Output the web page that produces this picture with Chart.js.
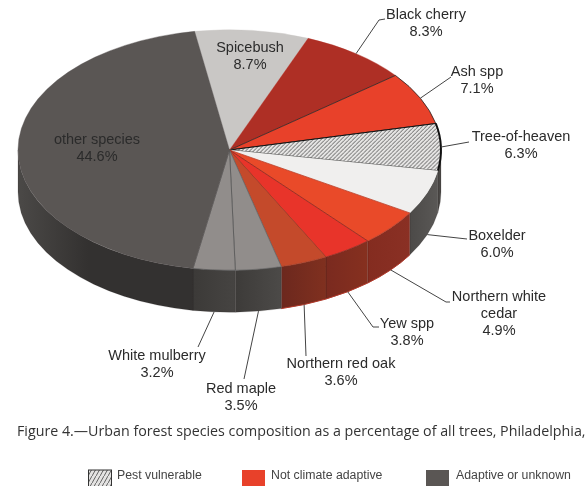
<!DOCTYPE html>
<html>
<head>
<meta charset="utf-8">
<script src="https://cdn.jsdelivr.net/npm/chart.js@4/dist/chart.umd.min.js"></script>
<style>
	html, body { margin: 0; padding: 0; background: #fff; }
	canvas { display: block; }
</style>
</head>
<body>
<canvas id="pieChart" width="588" height="486"></canvas>
<script>
// Chart data, clockwise from Spicebush
const categories = ['Spicebush', 'Black cherry', 'Ash spp', 'Tree-of-heaven', 'Boxelder', 'Northern white cedar', 'Yew spp', 'Northern red oak', 'Red maple', 'White mulberry', 'other species'];
const shares = [8.7, 8.3, 7.1, 6.3, 6.0, 4.9, 3.8, 3.6, 3.5, 3.2, 44.6];
const legendLabels = ['Pest vulnerable', 'Not climate adaptive', 'Adaptive or unknown'];
const caption = 'Figure 4.—Urban forest species composition as a percentage of all trees, Philadelphia,';

// Styling
const topColors = ['#c9c7c5', '#ae2f25', '#e8412a', 'HATCH', '#f0efee', '#e94a29', '#e8342a', '#c44a2b', '#918d8b', '#918d8b', '#5a5654'];
// side wall: left and right colour of each slice
const wallColors = [null, null, null, ['#4a4846', '#4a4846'], ['#4c4a48', '#5a5856'], ['#842c20', '#8a3024'], ['#7a2a1f', '#86301f'], ['#6c281e', '#80301f'], ['#3d3b39', '#4c4a48'], ['#3c3a38', '#464442'], ['#333130', '#4b4947']];
const wallRim = ['', '', '', '', '', '#b5392a', '#b5392a', '#b5392a', '', '', ''];
const edgeColors = ['#c9c7c5', '#ae2f25', '#222', '#111', '#f0efee', '#b8402a', '#8a2a20', '#a03a24', '#666', '#555', '#5a5654'];
const edgeWidths = [0.5, 0.5, 1, 2, 0.5, 1, 1, 1, 1, 1, 0.5];

// Label placement: [centre x, centre y of first line], and the bend(s) of each leader line
const labelLines = [['Spicebush', '8.7%'], ['Black cherry', '8.3%'], ['Ash spp', '7.1%'], ['Tree-of-heaven', '6.3%'], ['Boxelder', '6.0%'], ['Northern white', 'cedar', '4.9%'], ['Yew spp', '3.8%'], ['Northern red oak', '3.6%'], ['Red maple', '3.5%'], ['White mulberry', '3.2%'], ['other species', '44.6%']];
const labelSpots = [[250, 48], [426, 15], [477, 72], [521, 137], [497, 236], [499, 297], [407, 324], [341, 364], [241, 389], [157, 356], [97, 140]];
const leaderBends = [null, [[379, 20], [385, 19]], [[451, 77]], [[469, 142]], [[467, 239]], [[446, 302], [450, 302]], [[373, 327], [379, 327]], [[306, 356]], [[244, 379]], [[198, 347]], null];

const centerY = 150;   // where the pie centre sits on the page
const squash = 120 / 211; // tilt of the pie
const depth = 42;      // height of the side wall

function makeHatch() {
	const c = document.createElement('canvas');
	c.width = 4;
	c.height = 7;
	const g = c.getContext('2d');
	g.fillStyle = '#e4e3e2';
	g.fillRect(0, 0, 4, 7);
	g.strokeStyle = '#555';
	g.lineWidth = 0.9;
	g.beginPath();
	g.moveTo(-1, 8.75);
	g.lineTo(5, -1.75);
	g.stroke();
	return g.createPattern(c, 'repeat');
}

const hatch = makeHatch();

// Side wall of the tilted pie, under the arcs
function drawWalls(chart) {
	const ctx = chart.ctx;
	chart.getDatasetMeta(0).data.forEach((arc, i) => {
		const from = Math.max(arc.startAngle, 0);
		const to = Math.min(arc.endAngle, Math.PI);
		if (to <= from) return;
		const rx = arc.outerRadius;
		const ry = rx * squash;
		ctx.beginPath();
		ctx.ellipse(arc.x, centerY, rx, ry, 0, from, to);
		ctx.ellipse(arc.x, centerY + depth, rx, ry, 0, to, from, true);
		ctx.closePath();
		const xa = arc.x + rx * Math.cos(to);
		const xb = arc.x + rx * Math.cos(from);
		const fill = ctx.createLinearGradient(xa, 0, xb, 0);
		if (i === 10) {
			// the big slice is only lighter at the far left
			fill.addColorStop(0, wallColors[i][1]);
			fill.addColorStop(0.4, wallColors[i][0]);
			fill.addColorStop(1, wallColors[i][0]);
		} else {
			fill.addColorStop(0, wallColors[i][0]);
			fill.addColorStop(1, wallColors[i][1]);
		}
		ctx.fillStyle = fill;
		ctx.fill();
		ctx.strokeStyle = 'rgba(30,20,20,0.3)';
		ctx.lineWidth = 0.5;
		ctx.stroke();
		if (wallRim[i]) {
			ctx.beginPath();
			ctx.ellipse(arc.x, centerY + depth, rx, ry, 0, from, to);
			ctx.strokeStyle = wallRim[i];
			ctx.lineWidth = 1;
			ctx.stroke();
		}
	});
}

function drawLabels(chart) {
	const ctx = chart.ctx;
	ctx.save();
	ctx.textAlign = 'center';
	ctx.textBaseline = 'middle';
	ctx.font = '14.5px "Liberation Sans"';
	chart.getDatasetMeta(0).data.forEach((arc, i) => {
		if (leaderBends[i]) {
			const mid = (arc.startAngle + arc.endAngle) / 2;
			const sx = arc.x + arc.outerRadius * Math.cos(mid);
			let sy = centerY + arc.outerRadius * squash * Math.sin(mid);
			if (mid > 0.2) sy += depth; // leader starts from the wall's lower edge
			ctx.beginPath();
			ctx.moveTo(sx, sy);
			leaderBends[i].forEach(p => ctx.lineTo(p[0], p[1]));
			ctx.strokeStyle = '#444';
			ctx.lineWidth = 1;
			ctx.stroke();
		}
		ctx.fillStyle = '#2b2b2b';
		labelLines[i].forEach((line, n) => {
			ctx.fillText(line, labelSpots[i][0], labelSpots[i][1] + n * 17);
		});
	});
	ctx.restore();
}

function drawNotes(chart) {
	const ctx = chart.ctx;
	ctx.save();
	ctx.textBaseline = 'middle';
	ctx.textAlign = 'left';
	ctx.fillStyle = '#333';
	ctx.font = '14.25px "Open Sans"';
	ctx.fillText(caption, 17, 432);

	const boxes = [[88, hatch], [242, '#e8412a'], [426, '#5a5654']];
	const textX = [117, 271, 456];
	ctx.font = '12.3px "Liberation Sans"';
	legendLabels.forEach((text, i) => {
		ctx.fillStyle = boxes[i][1];
		ctx.fillRect(boxes[i][0], 470, 23, 17);
		if (i === 0) {
			ctx.strokeStyle = '#333';
			ctx.lineWidth = 1;
			ctx.strokeRect(boxes[i][0] + 0.5, 470, 23, 17);
		}
		ctx.fillStyle = '#444';
		ctx.fillText(text, textX[i], 476);
	});
	ctx.restore();
}

const tiltPlugin = {
	id: 'tilt',
	beforeDatasetsDraw(chart) {
		drawWalls(chart);
		const arc = chart.getDatasetMeta(0).data[0];
		const ctx = chart.ctx;
		ctx.save();
		ctx.translate(arc.x, centerY);
		ctx.scale(1, squash);
		ctx.translate(-arc.x, -arc.y);
	},
	afterDatasetsDraw(chart) {
		chart.ctx.restore();
		drawLabels(chart);
		drawNotes(chart);
	}
};

new Chart(document.getElementById('pieChart').getContext('2d'), {
	type: 'pie',
	data: {
		labels: categories,
		datasets: [{
			data: shares,
			backgroundColor: topColors.map(c => c === 'HATCH' ? hatch : c),
			borderColor: edgeColors,
			borderWidth: edgeWidths,
			clip: false
		}]
	},
	options: {
		responsive: false,
		animation: false,
		rotation: -9.5,
		layout: { padding: { left: 17, right: 146, top: 0, bottom: 61 } },
		plugins: {
			legend: { display: false },
			tooltip: { enabled: false }
		}
	},
	plugins: [tiltPlugin]
});
</script>
</body>
</html>
